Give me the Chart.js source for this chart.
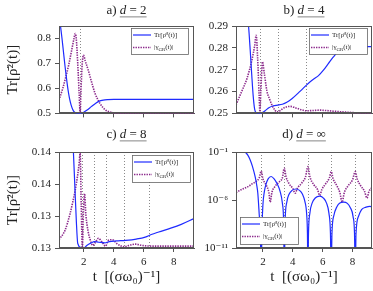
<!DOCTYPE html>
<html lang="en">
<head>
<meta charset="UTF-8">
<title>Purity and gamma vs t</title>
<script src="https://cdn.jsdelivr.net/npm/chart.js@4.4.0/dist/chart.umd.min.js"></script>
<style>
  html, body { margin: 0; padding: 0; background: #fff; }
  #wrap { position: relative; width: 373px; height: 291px; }
  canvas { position: absolute; }
</style>
</head>
<body>
<div id="wrap">
  <canvas id="chartA" width="196" height="124" style="left:0;top:0"></canvas>
  <canvas id="chartB" width="177" height="124" style="left:196px;top:0"></canvas>
  <canvas id="chartC" width="196" height="167" style="left:0;top:124px"></canvas>
  <canvas id="chartD" width="177" height="167" style="left:196px;top:124px"></canvas>
</div>

<script>
// ---- data ----
const panelLetters = ['a', 'b', 'c', 'd'];
const panelDims = ['2', '4', '8', '∞'];
const seriesLabels = ['Tr[ρ̄²(t)]', '|γ_{GR}(t)|'];
const xTicks = [2, 4, 6, 8];
const xTickLabels = ['2', '4', '6', '8'];

// a) d = 2
const tPurityA = [0.35, 0.45, 0.55, 0.65, 0.75, 0.85, 0.95, 1.05, 1.15, 1.25, 1.35, 1.5, 1.7, 1.85, 2.0, 2.2, 2.4, 2.6, 2.8, 3.0, 3.3, 3.6, 4.0, 5.0, 6.0, 7.0, 8.0, 9.35];
const purityA = [0.9, 0.85, 0.8, 0.745, 0.69, 0.64, 0.595, 0.56, 0.535, 0.518, 0.507, 0.501, 0.5, 0.501, 0.505, 0.513, 0.522, 0.532, 0.541, 0.548, 0.553, 0.555, 0.556, 0.556, 0.556, 0.556, 0.556, 0.556];
const tGammaA = [0.35, 0.6, 0.8, 1.0, 1.2, 1.35, 1.43, 1.5, 1.6, 1.7, 1.76, 1.82, 1.9, 1.98, 2.1, 2.3, 2.53, 2.75, 3.08, 3.42, 3.86, 4.5, 6.0, 9.35];
const gammaA = [0.553, 0.6, 0.645, 0.695, 0.755, 0.8, 0.82, 0.8, 0.7, 0.57, 0.5, 0.6, 0.7, 0.734, 0.71, 0.673, 0.624, 0.581, 0.54, 0.515, 0.504, 0.5, 0.5, 0.5];
const marksA = [1.75];
const yTicksA = [0.5, 0.6, 0.7, 0.8];
const yTickLabelsA = ['0.5', '0.6', '0.7', '0.8'];

// b) d = 4
const tPurityB = [0.9, 1.04, 1.15, 1.25, 1.35, 1.45, 1.55, 1.8, 2.0, 2.2, 2.4, 2.7, 3.0, 3.3, 3.6, 3.94, 4.5, 5.05, 5.4, 5.72, 6.05, 6.39, 6.7, 7.06, 7.4, 7.8, 8.5, 9.3];
const purityB = [0.3, 0.29, 0.279, 0.268, 0.258, 0.2518, 0.2503, 0.25, 0.2505, 0.2515, 0.2526, 0.2535, 0.2538, 0.2542, 0.2551, 0.2567, 0.2602, 0.2638, 0.2657, 0.2673, 0.2698, 0.2729, 0.2757, 0.2785, 0.2798, 0.2803, 0.2805, 0.2806];
const tGammaB = [0.2, 0.59, 0.93, 1.26, 1.45, 1.55, 1.65, 1.75, 1.8, 1.86, 1.97, 2.1, 2.27, 2.45, 2.6, 2.8, 2.95, 3.1, 3.4, 3.83, 4.2, 4.6, 4.9, 5.3, 5.8, 6.4, 7.3, 8.5, 9.3];
const gammaB = [0.2539, 0.2602, 0.2659, 0.2743, 0.281, 0.2858, 0.275, 0.258, 0.2508, 0.26, 0.2736, 0.268, 0.2602, 0.2565, 0.2539, 0.2515, 0.2507, 0.251, 0.2525, 0.2532, 0.2525, 0.2516, 0.2512, 0.2513, 0.2515, 0.2512, 0.2507, 0.2502, 0.2501];
const marksB = [1.8, 2.98, 4.9];
const yTicksB = [0.25, 0.26, 0.27, 0.28, 0.29];
const yTickLabelsB = ['0.25', '0.26', '0.27', '0.28', '0.29'];

// c) d = 8
const tPurityC = [1.25, 1.31, 1.4, 1.5, 1.6, 1.8, 2.0, 2.2, 2.5, 2.7, 3.0, 3.4, 3.7, 4.2, 4.8, 5.5, 6.1, 6.5, 7.0, 7.8, 8.5, 9.35];
const purityC = [0.1425, 0.14, 0.135, 0.1295, 0.1257, 0.1251, 0.125, 0.1254, 0.1258, 0.126, 0.1259, 0.1258, 0.126, 0.1261, 0.1262, 0.1264, 0.1267, 0.1271, 0.1275, 0.1281, 0.1287, 0.1296];
const tGammaC = [0.35, 0.76, 1.09, 1.25, 1.43, 1.6, 1.69, 1.76, 1.83, 1.91, 1.97, 2.05, 2.15, 2.3, 2.43, 2.6, 2.75, 2.98, 3.2, 3.45, 3.65, 3.9, 4.2, 4.5, 4.71, 5.0, 5.45, 5.9, 6.5, 9.35];
const gammaC = [0.1263, 0.1278, 0.1304, 0.132, 0.134, 0.1365, 0.1382, 0.1398, 0.132, 0.125, 0.13, 0.1335, 0.13, 0.1275, 0.1263, 0.1254, 0.1258, 0.1265, 0.126, 0.1253, 0.1262, 0.1263, 0.1257, 0.1253, 0.1252, 0.1254, 0.1256, 0.1254, 0.1253, 0.1253];
const marksC = [1.89, 2.67, 3.45, 4.71, 6.33];
const yTicksC = [0.125, 0.13, 0.135, 0.14];
const yTickLabelsC = ['0.13', '0.13', '0.14', '0.14'];

// d) d = infinity (log axis)
const tPurityD = [0.5, 0.82, 1.0, 1.15, 1.3, 1.48, 1.58, 1.66, 1.75, 1.83, 1.89, 1.93, 2.0, 2.1, 2.2, 2.35, 2.55, 2.75, 2.95, 3.15, 3.3, 3.39, 3.43, 3.48, 3.6, 3.75, 3.95, 4.2, 4.45, 4.65, 4.8, 4.93, 4.98, 5.01, 5.05, 5.15, 5.3, 5.5, 5.8, 6.05, 6.25, 6.42, 6.52, 6.57, 6.62, 6.75, 6.95, 7.15, 7.4, 7.65, 7.85, 8.03, 8.13, 8.18, 8.23, 8.4, 8.6, 8.9, 9.15, 9.3];
const purityD = [0.4, 0.1, 4.5e-2, 1.5e-2, 3.2e-3, 2.7e-4, 4e-5, 5e-6, 4e-8, 3e-10, 1e-14, 3e-10, 3e-7, 8e-6, 4e-5, 1.6e-4, 2.8e-4, 1.6e-4, 5e-5, 8e-6, 5e-7, 3e-9, 1e-14, 3e-9, 6e-7, 4e-6, 1e-5, 1.4e-5, 1e-5, 4e-6, 8e-7, 3e-8, 3e-10, 1e-14, 3e-10, 5e-8, 5e-7, 1.6e-6, 2.5e-6, 1.6e-6, 5e-7, 4e-8, 3e-10, 1e-14, 3e-10, 2.5e-8, 2e-7, 5e-7, 6e-7, 4.5e-7, 1.6e-7, 2e-8, 3e-10, 1e-14, 3e-10, 2e-8, 1e-7, 1.8e-7, 2.2e-7, 2e-7];
const tGammaD = [0.2, 0.6, 1.0, 1.3, 1.6, 1.75, 1.89, 2.0, 2.2, 2.4, 2.49, 2.6, 2.8, 3.1, 3.3, 3.43, 3.55, 3.75, 4.0, 4.16, 4.3, 4.6, 4.85, 5.01, 5.15, 5.4, 5.65, 5.8, 5.95, 6.2, 6.45, 6.57, 6.7, 6.95, 7.15, 7.3, 7.45, 7.7, 8.0, 8.18, 8.3, 8.55, 8.8, 8.96, 9.1, 9.3];
const gammaD = [6e-6, 1.3e-5, 2.5e-5, 5e-5, 1e-4, 2e-4, 1e-3, 1.6e-4, 4e-5, 6e-6, 6e-7, 6e-6, 2.5e-5, 8e-5, 2e-4, 2e-3, 2.5e-4, 5e-5, 1.6e-5, 5e-6, 1.6e-5, 6e-5, 2.5e-4, 3e-3, 2.5e-4, 4e-5, 1.3e-5, 3e-6, 1.3e-5, 5e-5, 2e-4, 9e-4, 1.6e-4, 3e-5, 6e-6, 6e-7, 6e-6, 3e-5, 1.3e-4, 9e-4, 1.6e-4, 3e-5, 8e-6, 1.6e-6, 8e-6, 2e-5];
const marksD = [1.89, 3.43, 5.01, 6.57, 8.18];
const yTicksD = [1e-11, 1e-6, 1e-1];
const yTickLabelsD = ['10⁻¹¹', '10⁻⁶', '10⁻¹'];

// ---- drawing ----
const serif = "'Liberation Serif', 'DejaVu Serif', serif";
const blue = '#1f2bff';
const purple = '#8c2a8c';
const frame = '#555';

function zip(ts, vs) {
    return ts.map((t, i) => ({x: t, y: vs[i]}));
}

// draws subscripted text like "|γ_{GR}(t)|"
function drawRich(ctx, txt, x, y, size) {
    const m = txt.match(/^(.*)_\{(.*)\}(.*)$/);
    const parts = m ? [[m[1], size, 0], [m[2], size * 0.7, size * 0.25], [m[3], size, 0]] : [[txt, size, 0]];
    parts.forEach(p => {
        ctx.font = p[1] + 'px ' + serif;
        ctx.fillText(p[0], x, y + p[2]);
        x += ctx.measureText(p[0]).width;
    });
}

const deco = {
    id: 'deco',
    beforeDatasetsDraw(chart, args, o) {
        const {ctx, chartArea: ca} = chart;
        const x = chart.scales.x;
        ctx.save();
        ctx.strokeStyle = '#8a8a8a';
        ctx.lineWidth = 1;
        ctx.setLineDash([1, 2]);
        o.marks.forEach(t => {
            const px = Math.round(x.getPixelForValue(t)) + 0.5;
            ctx.beginPath();
            ctx.moveTo(px, ca.top);
            ctx.lineTo(px, ca.bottom);
            ctx.stroke();
        });
        ctx.restore();
    },
    afterDatasetsDraw(chart, args, o) {
        const {ctx, chartArea: ca} = chart;
        ctx.save();
        // frame
        ctx.strokeStyle = frame;
        ctx.lineWidth = 1;
        ctx.strokeRect(Math.round(ca.left) + 0.5, Math.round(ca.top) + 0.5,
            Math.round(ca.right - ca.left) - 1, Math.round(ca.bottom - ca.top) - 1);

        // legend
        const lg = o.legend;
        const lx = lg.left != null ? ca.left + lg.left : ca.right - lg.right - lg.w;
        const ly = lg.top != null ? ca.top + lg.top : ca.bottom - lg.bottom - lg.h;
        ctx.fillStyle = '#fff';
        ctx.fillRect(lx, ly, lg.w, lg.h);
        ctx.strokeStyle = '#666';
        ctx.lineWidth = 0.8;
        ctx.strokeRect(Math.round(lx) + 0.5, Math.round(ly) + 0.5, lg.w, lg.h);
        chart.data.datasets.forEach((ds, i) => {
            const yy = ly + 7 + i * 12.5;
            ctx.strokeStyle = ds.borderColor;
            ctx.lineWidth = ds.borderWidth;
            ctx.setLineDash(ds.borderDash || []);
            ctx.beginPath();
            ctx.moveTo(lx + 2, yy);
            ctx.lineTo(lx + 20, yy);
            ctx.stroke();
            ctx.setLineDash([]);
            ctx.fillStyle = '#222';
            ctx.textBaseline = 'middle';
            drawRich(ctx, ds.label, lx + 23, yy, 7);
        });

        // panel title, e.g. "a) d = 2" with d = 2 underlined
        const pre = o.letter + ') ';
        const tail = ' = ' + o.dim;
        const fs = 13;
        ctx.textBaseline = 'middle';
        ctx.fillStyle = '#222';
        ctx.font = fs + 'px ' + serif;
        const w1 = ctx.measureText(pre).width;
        const w3 = ctx.measureText(tail).width;
        ctx.font = 'italic ' + fs + 'px ' + serif;
        const w2 = ctx.measureText('d').width;
        const cx = (ca.left + ca.right) / 2;
        let tx = cx - (w1 + w2 + w3) / 2;
        const ty = o.titleY;
        ctx.font = fs + 'px ' + serif;
        ctx.fillText(pre, tx, ty);
        ctx.font = 'italic ' + fs + 'px ' + serif;
        ctx.fillText('d', tx + w1, ty);
        ctx.font = fs + 'px ' + serif;
        ctx.fillText(tail, tx + w1 + w2, ty);
        ctx.fillStyle = '#b4b4b4';
        ctx.fillRect(tx + w1, ty + 5, w2 + w3, 1.6);
        ctx.restore();
    }
};

function makePanel(id, p) {
    new Chart(document.getElementById(id), {
        type: 'line',
        data: {
            datasets: [{
                label: seriesLabels[0],
                data: zip(p.tPur, p.pur),
                borderColor: blue,
                borderWidth: 1.2,
                pointRadius: 0,
                cubicInterpolationMode: 'monotone',
                clip: 0
            }, {
                label: seriesLabels[1],
                data: zip(p.tGam, p.gam),
                borderColor: purple,
                borderWidth: 1.6,
                borderDash: [1.4, 1.1],
                pointRadius: 0,
                cubicInterpolationMode: 'monotone',
                clip: 0
            }]
        },
        options: {
            responsive: false,
            animation: false,
            events: [],
            layout: {padding: {top: p.padTop, right: p.padRight, left: 0, bottom: 0}},
            plugins: {
                legend: {display: false},
                tooltip: {enabled: false},
                title: {display: false},
                deco: {marks: p.marks, legend: p.legend, letter: p.letter, dim: p.dim, titleY: 11}
            },
            scales: {
                x: {
                    type: 'linear',
                    min: p.xMin,
                    max: p.xMax,
                    afterBuildTicks: s => { s.ticks = xTicks.map(v => ({value: v})); },
                    afterFit: s => { s.height = p.xAxisH; },
                    grid: {display: true, drawOnChartArea: false, drawTicks: true, tickLength: 4, color: frame},
                    border: {display: true, color: frame},
                    ticks: {
                        display: p.xLabels,
                        padding: 4,
                        color: '#222',
                        font: {family: serif, size: 11},
                        callback: (v, i) => xTickLabels[i]
                    },
                    title: {
                        display: p.xLabels,
                        text: 't  [(σω₀)⁻¹]',
                        color: '#222',
                        font: {family: serif, size: 15},
                        padding: {top: 0, bottom: 5}
                    }
                },
                y: {
                    type: p.yType,
                    min: p.yMin,
                    max: p.yMax,
                    afterBuildTicks: s => { s.ticks = p.yTicks.map(v => ({value: v})); },
                    afterFit: s => { s.width = p.yAxisW; },
                    grid: {display: true, drawOnChartArea: false, drawTicks: true, tickLength: 4, color: frame},
                    border: {display: true, color: frame},
                    ticks: {
                        padding: 4,
                        color: '#222',
                        font: {family: serif, size: 11},
                        callback: (v, i) => p.yLabels[i]
                    },
                    title: {
                        display: p.yTitle,
                        text: 'Tr[ρ̄²(t)]',
                        color: '#222',
                        font: {family: serif, size: 15},
                        padding: {top: 4, bottom: 0}
                    }
                }
            }
        },
        plugins: [deco]
    });
}

makePanel('chartA', {
    letter: panelLetters[0], dim: panelDims[0],
    tPur: tPurityA, pur: purityA, tGam: tGammaA, gam: gammaA, marks: marksA,
    yType: 'linear', yMin: 0.5, yMax: 0.85, yTicks: yTicksA, yLabels: yTickLabelsA,
    xMin: 0.35, xMax: 9.35, yAxisW: 59, xAxisH: 3, padTop: 26, padRight: 2,
    xLabels: false, yTitle: true,
    legend: {right: 6, top: 2, w: 57, h: 26}
});
makePanel('chartB', {
    letter: panelLetters[1], dim: panelDims[1],
    tPur: tPurityB, pur: purityB, tGam: tGammaB, gam: gammaB, marks: marksB,
    yType: 'linear', yMin: 0.25, yMax: 0.29, yTicks: yTicksB, yLabels: yTickLabelsB,
    xMin: 0.2, xMax: 9.3, yAxisW: 40, xAxisH: 3, padTop: 26, padRight: 1,
    xLabels: false, yTitle: false,
    legend: {right: 5, top: 2, w: 58, h: 26}
});
makePanel('chartC', {
    letter: panelLetters[2], dim: panelDims[2],
    tPur: tPurityC, pur: purityC, tGam: tGammaC, gam: gammaC, marks: marksC,
    yType: 'linear', yMin: 0.125, yMax: 0.14, yTicks: yTicksC, yLabels: yTickLabelsC,
    xMin: 0.35, xMax: 9.35, yAxisW: 59, xAxisH: 43, padTop: 28, padRight: 2,
    xLabels: true, yTitle: true,
    legend: {right: 4, top: 3, w: 58, h: 27}
});
makePanel('chartD', {
    letter: panelLetters[3], dim: panelDims[3],
    tPur: tPurityD, pur: purityD, tGam: tGammaD, gam: gammaD, marks: marksD,
    yType: 'logarithmic', yMin: 1e-11, yMax: 1e-1, yTicks: yTicksD, yLabels: yTickLabelsD,
    xMin: 0.2, xMax: 9.3, yAxisW: 40, xAxisH: 43, padTop: 28, padRight: 1,
    xLabels: true, yTitle: false,
    legend: {left: 4, bottom: 4, w: 58, h: 27}
});
</script>
</body>
</html>
